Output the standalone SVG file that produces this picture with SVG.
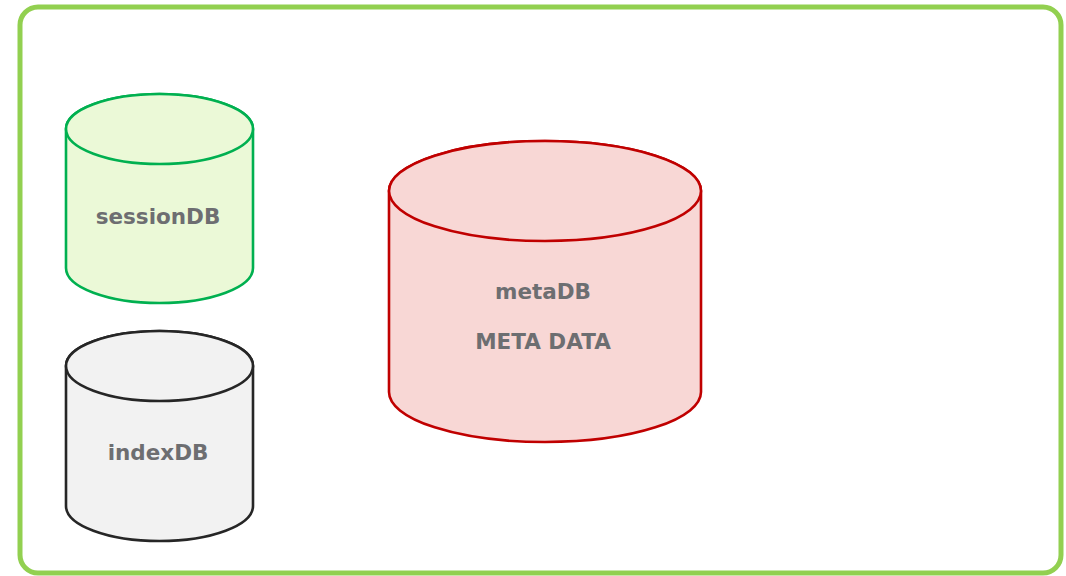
<svg xmlns="http://www.w3.org/2000/svg" width="1066" height="576" viewBox="0 0 1066 576">
<style>
.lbl{font-family:"DejaVu Sans",Verdana,sans-serif;font-weight:bold;font-size:21.5px;fill:#6d6e71;text-anchor:middle}
.cyl{stroke-width:2.6}
</style>
<rect width="1066" height="576" fill="#ffffff"/>
<g id="frame"><rect x="20" y="7" width="1041" height="566" rx="18" ry="18" fill="#ffffff" stroke="#92d050" stroke-width="5"/></g>
<g id="sessionDB">
<path class="cyl" d="M66,129 L66,268 A93.5,35 0 0 0 253,268 L253,129 A93.5,35 0 0 0 66,129 Z" fill="#ebf9d7" stroke="#00b050"/>
<ellipse class="cyl" cx="159.5" cy="129" rx="93.5" ry="35" fill="#ebf9d7" stroke="#00b050"/>
<text class="lbl" x="158" y="224">sessionDB</text>
</g>
<g id="indexDB">
<path class="cyl" d="M66,366 L66,506 A93.5,35 0 0 0 253,506 L253,366 A93.5,35 0 0 0 66,366 Z" fill="#f2f2f2" stroke="#262626"/>
<ellipse class="cyl" cx="159.5" cy="366" rx="93.5" ry="35" fill="#f2f2f2" stroke="#262626"/>
<text class="lbl" x="158" y="460">indexDB</text>
</g>
<g id="metaDB">
<path class="cyl" d="M389,191 L389,392 A156,50 0 0 0 701,392 L701,191 A156,50 0 0 0 389,191 Z" fill="#f8d7d5" stroke="#c00000"/>
<ellipse class="cyl" cx="545" cy="191" rx="156" ry="50" fill="#f8d7d5" stroke="#c00000"/>
<text class="lbl" x="543" y="299">metaDB</text>
<text class="lbl" x="543" y="349">META DATA</text>
</g>
<g id="connectors"></g>
</svg>
